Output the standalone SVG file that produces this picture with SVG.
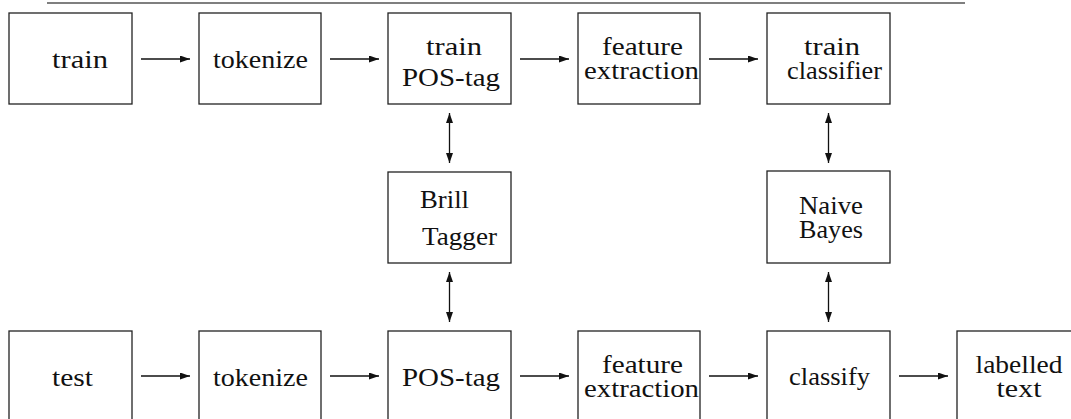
<svg xmlns="http://www.w3.org/2000/svg" width="1071" height="419" viewBox="0 0 1071 419" font-family="Liberation Serif, DejaVu Serif, serif">
<style>
.box{fill:#fff;stroke:#222;stroke-width:1.3}
.t{font-size:25px;fill:#111;text-anchor:middle}
.c{stroke:#111;stroke-width:1.3;fill:none}
.rule{stroke:#555;stroke-width:1.4}
</style>
<defs>
<marker id="ah" viewBox="0 0 10 7" refX="10" refY="3.5" markerWidth="10" markerHeight="7" markerUnits="userSpaceOnUse" orient="auto-start-reverse">
<path d="M0,0 L10,3.5 L0,7 z" fill="#111"/>
</marker>
</defs>
<rect width="1071" height="419" fill="#fff"/>
<line class="rule" x1="47" y1="3" x2="965" y2="3"/>
<g id="n-train"><rect class="box" x="9" y="13" width="123" height="91"/><text class="t" x="80" y="68" textLength="56" lengthAdjust="spacingAndGlyphs">train</text></g>
<g id="n-tokenize1"><rect class="box" x="199" y="13" width="122" height="91"/><text class="t" x="260.5" y="68" textLength="95" lengthAdjust="spacingAndGlyphs">tokenize</text></g>
<g id="n-trainpos"><rect class="box" x="388" y="13" width="123" height="91"/><text class="t" x="454" y="55" textLength="56" lengthAdjust="spacingAndGlyphs">train</text><text class="t" x="451" y="86" textLength="98" lengthAdjust="spacingAndGlyphs">POS-tag</text></g>
<g id="n-feat1"><rect class="box" x="578" y="13" width="122" height="91"/><text class="t" x="642.5" y="55" textLength="81" lengthAdjust="spacingAndGlyphs">feature</text><text class="t" x="641.5" y="79" textLength="115" lengthAdjust="spacingAndGlyphs">extraction</text></g>
<g id="n-trainclf"><rect class="box" x="767" y="13" width="123" height="91"/><text class="t" x="832" y="55" textLength="56" lengthAdjust="spacingAndGlyphs">train</text><text class="t" x="834.5" y="79" textLength="95" lengthAdjust="spacingAndGlyphs">classifier</text></g>
<g id="n-brill"><rect class="box" x="388" y="172" width="123" height="91"/><text class="t" x="444.5" y="208" textLength="49" lengthAdjust="spacingAndGlyphs">Brill</text><text class="t" x="459.5" y="245" textLength="75" lengthAdjust="spacingAndGlyphs">Tagger</text></g>
<g id="n-nb"><rect class="box" x="767" y="171" width="123" height="92"/><text class="t" x="831" y="214" textLength="64" lengthAdjust="spacingAndGlyphs">Naive</text><text class="t" x="831" y="238" textLength="64" lengthAdjust="spacingAndGlyphs">Bayes</text></g>
<g id="n-test"><rect class="box" x="9" y="331" width="123" height="91"/><text class="t" x="72.5" y="386" textLength="41" lengthAdjust="spacingAndGlyphs">test</text></g>
<g id="n-tokenize2"><rect class="box" x="199" y="331" width="122" height="91"/><text class="t" x="260.5" y="386" textLength="95" lengthAdjust="spacingAndGlyphs">tokenize</text></g>
<g id="n-pos"><rect class="box" x="388" y="331" width="123" height="91"/><text class="t" x="451" y="386" textLength="98" lengthAdjust="spacingAndGlyphs">POS-tag</text></g>
<g id="n-feat2"><rect class="box" x="578" y="331" width="122" height="91"/><text class="t" x="642.5" y="373" textLength="81" lengthAdjust="spacingAndGlyphs">feature</text><text class="t" x="641.5" y="397" textLength="115" lengthAdjust="spacingAndGlyphs">extraction</text></g>
<g id="n-classify"><rect class="box" x="767" y="331" width="123" height="91"/><text class="t" x="829.5" y="385" textLength="81" lengthAdjust="spacingAndGlyphs">classify</text></g>
<g id="n-labelled"><rect class="box" x="957" y="331" width="123" height="91"/><text class="t" x="1019" y="373" textLength="87" lengthAdjust="spacingAndGlyphs">labelled</text><text class="t" x="1019" y="397" textLength="45" lengthAdjust="spacingAndGlyphs">text</text></g>
<g id="connectors">
<line class="c" x1="141" y1="59" x2="190" y2="59" marker-end="url(#ah)"/>
<line class="c" x1="330" y1="59" x2="379" y2="59" marker-end="url(#ah)"/>
<line class="c" x1="520" y1="59" x2="569" y2="59" marker-end="url(#ah)"/>
<line class="c" x1="709" y1="59" x2="758" y2="59" marker-end="url(#ah)"/>
<line class="c" x1="141" y1="376" x2="190" y2="376" marker-end="url(#ah)"/>
<line class="c" x1="330" y1="376" x2="379" y2="376" marker-end="url(#ah)"/>
<line class="c" x1="520" y1="376" x2="569" y2="376" marker-end="url(#ah)"/>
<line class="c" x1="709" y1="376" x2="758" y2="376" marker-end="url(#ah)"/>
<line class="c" x1="899" y1="376" x2="948" y2="376" marker-end="url(#ah)"/>
<line class="c" x1="449.5" y1="113" x2="449.5" y2="163" marker-start="url(#ah)" marker-end="url(#ah)"/>
<line class="c" x1="449.5" y1="272" x2="449.5" y2="322" marker-start="url(#ah)" marker-end="url(#ah)"/>
<line class="c" x1="828.5" y1="113" x2="828.5" y2="163" marker-start="url(#ah)" marker-end="url(#ah)"/>
<line class="c" x1="828.5" y1="272" x2="828.5" y2="322" marker-start="url(#ah)" marker-end="url(#ah)"/>
</g>
</svg>
